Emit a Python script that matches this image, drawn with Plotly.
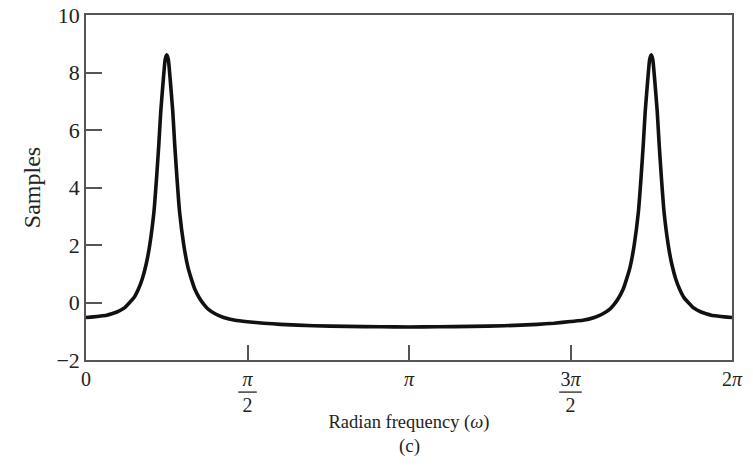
import math
import plotly.graph_objects as go

# Read-off samples of the curve (omega in radians, value)
omega = [0.000, 0.070, 0.144, 0.200, 0.251, 0.300, 0.340, 0.377, 0.420, 0.467,
         0.510, 0.547, 0.585, 0.620, 0.661, 0.686, 0.708, 0.727, 0.753, 0.770,
         0.785, 0.801, 0.818, 0.844, 0.863, 0.885, 0.910, 0.951, 0.990, 1.023,
         1.060, 1.104, 1.150, 1.194, 1.260, 1.339, 1.450, 1.570, 1.730, 1.893,
         2.214, 2.542, 2.866, 3.142,
         3.417, 3.741, 4.069, 4.390, 4.553, 4.713, 4.833, 4.944, 5.023, 5.089,
         5.133, 5.179, 5.223, 5.260, 5.293, 5.332, 5.373, 5.398, 5.420, 5.439,
         5.465, 5.482, 5.498, 5.513, 5.530, 5.556, 5.575, 5.597, 5.622, 5.663,
         5.698, 5.736, 5.773, 5.816, 5.863, 5.906, 5.943, 5.983, 6.032, 6.083,
         6.139, 6.213, 6.283]
samples = [-0.52, -0.50, -0.47, -0.44, -0.39, -0.33, -0.26, -0.18, -0.02, 0.17,
           0.47, 0.82, 1.33, 2.00, 3.16, 4.32, 5.48, 6.64, 7.80, 8.45,
           8.62, 8.45, 7.80, 6.64, 5.48, 4.32, 3.16, 2.00, 1.25, 0.84,
           0.45, 0.15, -0.08, -0.25, -0.40, -0.52, -0.62, -0.67, -0.72, -0.76,
           -0.81, -0.83, -0.845, -0.85,
           -0.845, -0.83, -0.81, -0.76, -0.72, -0.66, -0.62, -0.52, -0.40, -0.25,
           -0.08, 0.15, 0.45, 0.84, 1.25, 2.00, 3.16, 4.32, 5.48, 6.64,
           7.80, 8.45, 8.62, 8.45, 7.80, 6.64, 5.48, 4.32, 3.16, 2.00,
           1.33, 0.82, 0.47, 0.17, -0.02, -0.18, -0.26, -0.33, -0.39, -0.44,
           -0.47, -0.50, -0.52]

x_tickvals = [0, math.pi / 2, math.pi, 3 * math.pi / 2, 2 * math.pi]
x_ticktext = ["0", "<i>π</i><br>2", "<i>π</i>", "3<i>π</i><br>2", "2<i>π</i>"]
y_tickvals = [-2, 0, 2, 4, 6, 8, 10]

FONT = "Liberation Serif"
AX = "#555555"
TXT = "#222222"

fig = go.Figure()
fig.add_trace(go.Scatter(x=omega, y=samples, mode="lines",
                         line=dict(color="#111111", width=3.6, shape="spline", smoothing=0.5),
                         hoverinfo="skip", showlegend=False))

# fraction bars under the pi in pi/2 and 3pi/2 tick labels
for xc, hw in [(math.pi / 2, 0.09), (3 * math.pi / 2, 0.11)]:
    fig.add_shape(type="line", xref="x", yref="paper", x0=xc - hw, x1=xc + hw,
                  y0=-0.093, y1=-0.093, line=dict(color=TXT, width=1.3))

fig.add_annotation(text="(c)", xref="paper", yref="paper", x=0.5, y=-0.249,
                   showarrow=False, font=dict(family=FONT, size=19, color=TXT),
                   xanchor="center", yanchor="middle")

fig.update_layout(
    width=753, height=468,
    margin=dict(l=86, r=21, t=15, b=108, autoexpand=False),
    paper_bgcolor="white", plot_bgcolor="white",
    font=dict(family=FONT, size=19, color=TXT),
    xaxis=dict(range=[0, 2 * math.pi], tickmode="array", tickvals=x_tickvals,
               ticktext=x_ticktext, ticks="inside", ticklen=15, tickwidth=1.5,
               tickcolor=AX, showline=True, linecolor=AX, linewidth=1.5,
               mirror=True, showgrid=False, zeroline=False,
               tickfont=dict(family=FONT, size=20, color=TXT),
               title=dict(text="Radian frequency (<i>ω</i>)", standoff=0,
                          font=dict(family=FONT, size=18.5, color=TXT))),
    yaxis=dict(range=[-2, 10], tickmode="array", tickvals=y_tickvals,
               ticks="inside", ticklen=16, tickwidth=1.5, tickcolor=AX,
               showline=True, linecolor=AX, linewidth=1.5, mirror=True,
               showgrid=False, zeroline=False,
               tickfont=dict(family=FONT, size=22, color=TXT),
               title=dict(text="Samples", standoff=9,
                          font=dict(family=FONT, size=24, color=TXT))),
)

fig.write_html("out.html")
